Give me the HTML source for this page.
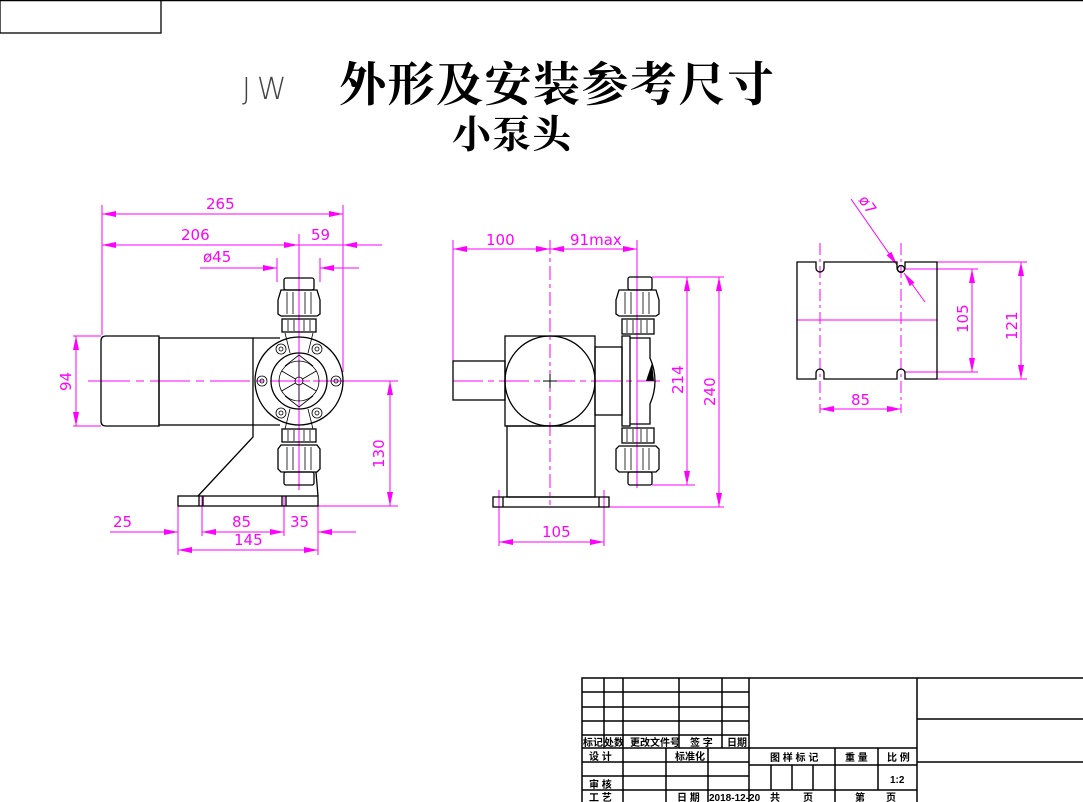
<!DOCTYPE html>
<html><head><meta charset="utf-8"><style>
html,body{margin:0;padding:0;background:#fff;}
svg{display:block;}
.m{stroke:#ff00ff;stroke-width:1;fill:none;}
.k{stroke:#000;stroke-width:1.3;fill:none;}
.kt{stroke:#000;stroke-width:0.8;fill:none;}
.dim{font-family:"DejaVu Sans","Liberation Sans",sans-serif;font-size:15px;fill:#ff00ff;}
.tb{font-family:"Liberation Sans","Noto Sans CJK SC",sans-serif;font-size:10px;font-weight:bold;fill:#000;}
</style></head><body>
<svg width="1083" height="802" viewBox="0 0 1083 802" xmlns="http://www.w3.org/2000/svg">
<defs>
<marker id="a" viewBox="0 0 14 6" refX="14" refY="3" markerWidth="14" markerHeight="6" markerUnits="userSpaceOnUse" orient="auto-start-reverse"><path d="M0,0 L14,3 L0,6 Z" fill="#ff00ff"/></marker>
</defs>
<rect width="1083" height="802" fill="#fff"/>
<line x1="0" y1="0.5" x2="1083" y2="0.5" stroke="#000" stroke-width="1.5"/>
<rect x="0" y="0" width="161" height="33" class="k"/>

<text x="242" y="99" font-family="DejaVu Sans,sans-serif" font-size="30" font-weight="200" fill="#444" letter-spacing="6">JW</text>
<text x="339" y="101" font-family="'Noto Serif CJK SC','Noto Sans CJK SC',serif" font-size="47" font-weight="bold" letter-spacing="1.5" fill="#000">外形及安装参考尺寸</text>
<text x="452" y="148" font-family="'Noto Serif CJK SC','Noto Sans CJK SC',serif" font-size="39" font-weight="bold" letter-spacing="1" fill="#000">小泵头</text>

<!-- LEFT VIEW -->
<g class="m">
<line x1="102" y1="205" x2="102" y2="335"/>
<line x1="343" y1="205" x2="343" y2="372"/>
<line x1="102" y1="214" x2="343" y2="214" marker-start="url(#a)" marker-end="url(#a)"/>
<line x1="102" y1="245" x2="298" y2="245" marker-start="url(#a)" marker-end="url(#a)"/>
<line x1="298" y1="245" x2="382" y2="245"/>
<line x1="343" y1="245" x2="362" y2="245" marker-start="url(#a)"/>
<line x1="200" y1="268" x2="277" y2="268" marker-end="url(#a)"/>
<line x1="320" y1="268" x2="359" y2="268" marker-start="url(#a)"/>
<line x1="277" y1="258" x2="277" y2="282"/>
<line x1="320" y1="258" x2="320" y2="282"/>
<line x1="299" y1="234" x2="299" y2="490"/>
<line x1="90" y1="381" x2="390" y2="381" stroke-dasharray="40,6,8,6"/>
<line x1="313" y1="381" x2="398" y2="381"/>
<line x1="318" y1="506" x2="398" y2="506"/>
<line x1="390" y1="381" x2="390" y2="506" marker-start="url(#a)" marker-end="url(#a)"/>
<line x1="73" y1="336" x2="101" y2="336"/><line x1="73" y1="426" x2="101" y2="426"/>
<line x1="76" y1="336" x2="76" y2="426" marker-start="url(#a)" marker-end="url(#a)"/>
<line x1="88" y1="381" x2="110" y2="381"/>
<line x1="178" y1="506" x2="178" y2="555"/>
<line x1="202" y1="496" x2="202" y2="536"/>
<line x1="284" y1="496" x2="284" y2="536"/>
<line x1="318" y1="506" x2="318" y2="555"/>
<line x1="110" y1="532" x2="178" y2="532" marker-end="url(#a)"/>
<line x1="202" y1="532" x2="284" y2="532" marker-start="url(#a)" marker-end="url(#a)"/>
<line x1="318" y1="532" x2="356" y2="532" marker-start="url(#a)"/>
<line x1="178" y1="550" x2="318" y2="550" marker-start="url(#a)" marker-end="url(#a)"/>
</g>
<text class="dim" x="206" y="209">265</text>
<text class="dim" x="181" y="240">206</text>
<text class="dim" x="311" y="240">59</text>
<text class="dim" x="203" y="262">ø45</text>
<text class="dim" x="113" y="527">25</text>
<text class="dim" x="232" y="527">85</text>
<text class="dim" x="290" y="527">35</text>
<text class="dim" x="234" y="545">145</text>
<text class="dim" transform="translate(384,468) rotate(-90)">130</text>
<text class="dim" transform="translate(71,391) rotate(-90)">94</text>

<g class="k">
<path d="M106,336 H159 V426 H106 Q101,426 101,421 V341 Q101,336 106,336 Z"/>
<rect x="159" y="338" width="94" height="87"/>
<line x1="253" y1="338" x2="280" y2="338"/>
<line x1="253" y1="425" x2="280" y2="425"/>
<path d="M253,425 V437 L198,496"/>
<path d="M316,472 L318,496"/>
<rect x="178" y="496" width="140" height="10"/>
<line x1="199" y1="496" x2="199" y2="506"/><line x1="203" y1="496" x2="203" y2="506"/>
<line x1="282" y1="496" x2="282" y2="506"/><line x1="286" y1="496" x2="286" y2="506"/>
<circle cx="299" cy="381" r="44"/>
<circle cx="299" cy="381" r="28"/>
</g>
<g class="kt">
<circle cx="299" cy="381" r="4"/>
<circle cx="299" cy="381" r="20"/>
<path d="M299,377 V361 M299,385 V401 M295.5,379 L281.7,371 M302.5,379 L316.3,371 M295.5,383 L281.7,391 M302.5,383 L316.3,391"/>
<path d="M285,366 L299,355 L313,366 M285,396 L299,407 L313,396"/>
<circle cx="281" cy="349" r="5"/><circle cx="281" cy="349" r="2"/>
<circle cx="317" cy="349" r="5"/><circle cx="317" cy="349" r="2"/>
<circle cx="281" cy="413" r="5"/><circle cx="281" cy="413" r="2"/>
<circle cx="317" cy="413" r="5"/><circle cx="317" cy="413" r="2"/>
<circle cx="262" cy="381" r="5"/><circle cx="262" cy="381" r="2"/>
<circle cx="336" cy="381" r="5"/><circle cx="336" cy="381" r="2"/>
<path d="M285,333 L290,353 M313,333 L308,353 M285,429 L290,409 M313,429 L308,409"/>
</g>
<g class="k">
<rect x="284" y="278" width="30" height="12" rx="2"/>
<path d="M281,290 H317 L320,300 V314 L317,316 H281 L278,314 V300 Z"/>
<rect x="282" y="319" width="34" height="13"/>
<rect x="282" y="429" width="34" height="13"/>
<path d="M281,445 H317 L320,449 V469 L317,472 H281 L278,469 V449 Z"/>
<rect x="284" y="472" width="30" height="13" rx="2"/>
</g>
<g class="kt">
<path d="M287,292 V314 M293,292 V314 M305,292 V314 M311,292 V314 M288,320 V331 M294,320 V331 M304,320 V331 M310,320 V331 M288,430 V441 M294,430 V441 M304,430 V441 M310,430 V441 M287,447 V470 M293,447 V470 M305,447 V470 M311,447 V470"/>
</g>

<!-- MIDDLE VIEW -->
<g class="m">
<line x1="453" y1="240" x2="453" y2="361"/>
<line x1="637" y1="240" x2="637" y2="488"/>
<line x1="453" y1="249" x2="550" y2="249" marker-start="url(#a)" marker-end="url(#a)"/>
<line x1="550" y1="249" x2="637" y2="249" marker-start="url(#a)" marker-end="url(#a)"/>
<line x1="550" y1="240" x2="550" y2="505" stroke-dasharray="14,4,4,4"/>
<line x1="453" y1="381" x2="660" y2="381" stroke-dasharray="30,5,6,5"/>
<line x1="543" y1="381" x2="557" y2="381" stroke="#000"/>
<line x1="550" y1="374" x2="550" y2="388" stroke="#000"/>
<line x1="652" y1="277" x2="724" y2="277"/>
<line x1="652" y1="485" x2="695" y2="485"/>
<line x1="609" y1="507" x2="724" y2="507"/>
<line x1="687" y1="277" x2="687" y2="485" marker-start="url(#a)" marker-end="url(#a)"/>
<line x1="719" y1="277" x2="719" y2="507" marker-start="url(#a)" marker-end="url(#a)"/>
<line x1="499" y1="490" x2="499" y2="546"/>
<line x1="604" y1="490" x2="604" y2="546"/>
<line x1="499" y1="542" x2="604" y2="542" marker-start="url(#a)" marker-end="url(#a)"/>
</g>
<text class="dim" x="486" y="245">100</text>
<text class="dim" x="570" y="245">91max</text>
<text class="dim" x="542" y="537">105</text>
<text class="dim" transform="translate(683,394) rotate(-90)">214</text>
<text class="dim" transform="translate(715,406) rotate(-90)">240</text>
<g class="k">
<rect x="453" y="361" width="52" height="39"/>
<rect x="505" y="336" width="90" height="90"/>
<circle cx="550" cy="381" r="45"/>
<rect x="595" y="347" width="27" height="68"/>
<rect x="507" y="426" width="88" height="71"/>
<rect x="493" y="497" width="116" height="10"/>
<line x1="503" y1="497" x2="503" y2="507"/><line x1="599" y1="497" x2="599" y2="507"/>
<rect x="622" y="336" width="8" height="90"/>
<path d="M630,338 H650 V358 Q660,381 650,404 V424 H630"/>
<rect x="628" y="277" width="24" height="13" rx="2"/>
<path d="M619,290 H656 L659,300 V314 L656,316 H619 L616,314 V300 Z"/>
<rect x="622" y="319" width="32" height="15"/>
<rect x="622" y="428" width="32" height="15"/>
<path d="M619,446 H656 L659,449 V469 L656,472 H619 L616,469 V449 Z"/>
<rect x="628" y="472" width="24" height="13" rx="2"/>
</g>
<path d="M646,381 L652,363 L654,381 Z" fill="#000"/>
<g class="kt">
<path d="M625,292 V314 M631,292 V314 M643,292 V314 M649,292 V314 M627,320 V333 M633,320 V333 M641,320 V333 M647,320 V333 M627,429 V442 M633,429 V442 M641,429 V442 M647,429 V442 M625,448 V470 M631,448 V470 M643,448 V470 M649,448 V470"/>
</g>

<!-- RIGHT VIEW -->
<g class="m">
<line x1="820" y1="243" x2="820" y2="413" stroke-dasharray="12,4,3,4"/>
<line x1="901" y1="243" x2="901" y2="413" stroke-dasharray="12,4,3,4"/>
<line x1="797" y1="320" x2="937" y2="320"/>
<line x1="820" y1="409" x2="901" y2="409" marker-start="url(#a)" marker-end="url(#a)"/>
<line x1="904" y1="269" x2="978" y2="269"/>
<line x1="904" y1="372" x2="978" y2="372"/>
<line x1="937" y1="262" x2="1027" y2="262"/>
<line x1="937" y1="379" x2="1027" y2="379"/>
<line x1="972" y1="269" x2="972" y2="372" marker-start="url(#a)" marker-end="url(#a)"/>
<line x1="1021" y1="262" x2="1021" y2="379" marker-start="url(#a)" marker-end="url(#a)"/>
<line x1="851" y1="199" x2="897" y2="265" marker-end="url(#a)"/>
<line x1="925" y1="302" x2="904" y2="273" marker-end="url(#a)"/>
</g>
<text class="dim" x="851" y="405">85</text>
<text class="dim" transform="translate(968,333) rotate(-90)">105</text>
<text class="dim" transform="translate(1017,340) rotate(-90)">121</text>
<text class="dim" transform="translate(858,200) rotate(55)">ø7</text>
<g class="k">
<path d="M797,262 H816 V268 A4,4 0 0 0 824,268 V262 H897 V268 A4,4 0 0 0 905,268 V262 H937 V379 H905 V373 A4,4 0 0 0 897,373 V379 H824 V373 A4,4 0 0 0 816,373 V379 H797 Z"/>
<circle cx="901" cy="269" r="3.5"/>
</g>

<!-- TITLE BLOCK -->
<g stroke="#000" stroke-width="1.5" fill="none">
<rect x="582" y="678" width="502" height="126"/>
<line x1="749" y1="678" x2="749" y2="802"/>
<line x1="917" y1="678" x2="917" y2="802"/>
<line x1="917" y1="719" x2="1083" y2="719"/>
<line x1="917" y1="762" x2="1083" y2="762"/>
<line x1="582" y1="692" x2="749" y2="692"/>
<line x1="582" y1="707" x2="749" y2="707"/>
<line x1="582" y1="721" x2="749" y2="721"/>
<line x1="582" y1="735" x2="749" y2="735"/>
<line x1="582" y1="748" x2="917" y2="748"/>
<line x1="582" y1="762" x2="749" y2="762"/>
<line x1="749" y1="765" x2="917" y2="765"/>
<line x1="582" y1="776" x2="749" y2="776"/>
<line x1="582" y1="790" x2="917" y2="790"/>
<line x1="604" y1="678" x2="604" y2="748"/>
<line x1="623" y1="678" x2="623" y2="802"/>
<line x1="679" y1="678" x2="679" y2="748"/>
<line x1="722" y1="678" x2="722" y2="748"/>
<line x1="666" y1="748" x2="666" y2="802"/>
<line x1="708" y1="748" x2="708" y2="802"/>
<line x1="771" y1="765" x2="771" y2="790"/>
<line x1="792" y1="765" x2="792" y2="790"/>
<line x1="813" y1="765" x2="813" y2="790"/>
<line x1="835" y1="748" x2="835" y2="802"/>
<line x1="878" y1="748" x2="878" y2="790"/>
</g>
<text class="tb" x="583" y="746">标记</text>
<text class="tb" x="604" y="746">处数</text>
<text class="tb" x="630" y="746">更改文件号</text>
<text class="tb" x="690" y="746">签 字</text>
<text class="tb" x="727" y="746">日期</text>
<text class="tb" x="589" y="760">设 计</text>
<text class="tb" x="675" y="760">标准化</text>
<text class="tb" x="589" y="788">审 核</text>
<text class="tb" x="589" y="801">工 艺</text>
<text class="tb" x="677" y="801">日 期</text>
<text class="tb" x="709" y="801" font-size="8.5">2018-12-20</text>
<text class="tb" x="770" y="761">图 样 标 记</text>
<text class="tb" x="845" y="761">重 量</text>
<text class="tb" x="887" y="761">比 例</text>
<text class="tb" x="890" y="783">1:2</text>
<text class="tb" x="770" y="801">共</text>
<text class="tb" x="803" y="801">页</text>
<text class="tb" x="855" y="801">第</text>
<text class="tb" x="886" y="801">页</text>
</svg>
</body></html>
